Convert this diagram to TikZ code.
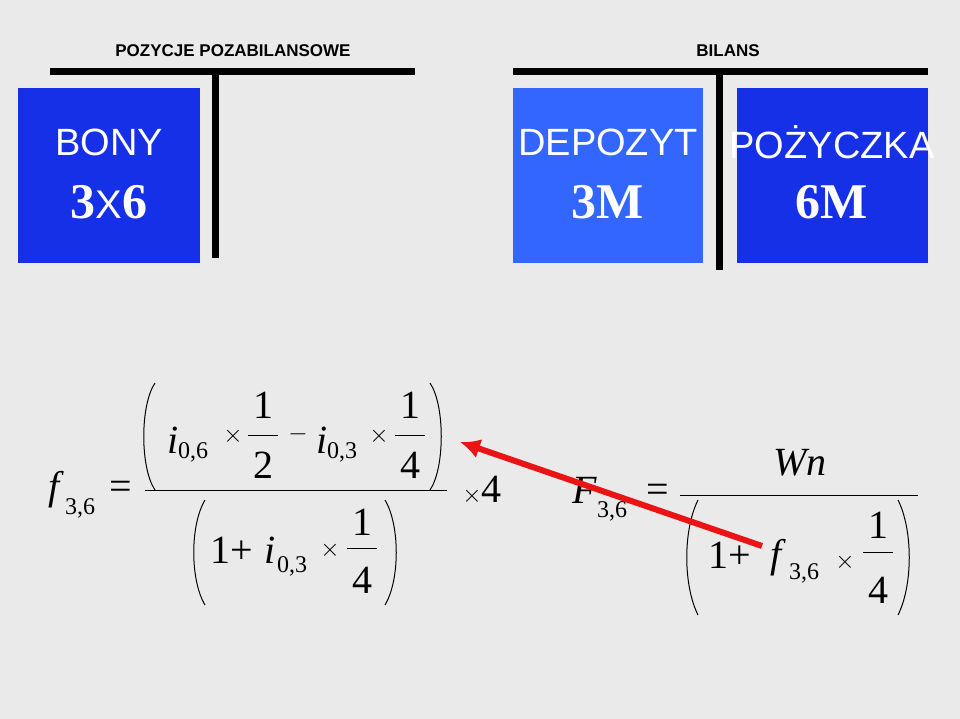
\documentclass[tikz,border=0pt]{standalone}
\usepackage{fontspec}
\usetikzlibrary{arrows.meta}
\setmainfont{Liberation Serif}
\setsansfont{Liberation Sans}
\begin{document}
\begin{tikzpicture}[x=1pt,y=-1pt,
  bar/.style={line width=7pt},
  head/.style={font=\sffamily\bfseries\fontsize{17}{17}\selectfont},
  boxt/.style={text=white,font=\sffamily\fontsize{38}{38}\selectfont},
  boxn/.style={text=white,font=\bfseries\fontsize{50}{50}\selectfont},
  mi/.style={font=\itshape\fontsize{40}{40}\selectfont},
  mr/.style={font=\fontsize{40}{40}\selectfont},
  sb/.style={font=\fontsize{24}{24}\selectfont},
  fl/.style={line width=1pt},
  pr/.style={line width=1pt}]
\definecolor{darkblue}{RGB}{22,48,232}
\definecolor{lightblue}{RGB}{51,102,255}
\definecolor{bg}{RGB}{234,234,234}
\definecolor{arr}{RGB}{235,20,20}
\fill[bg] (0,0) rectangle (960,719);
\useasboundingbox (0,0) rectangle (960,719);
% headers
\node[head] (h1) at (233,51) {POZYCJE POZABILANSOWE};
\node[head] (h2) at (728,51) {BILANS};
\draw[bar] (50,72) -- (415,72);
\draw[bar] (215,72) -- (215,258);
\draw[bar] (513,72) -- (928,72);
\draw[bar] (719,72) -- (719,270);
% boxes
\fill[darkblue] (18,88) rectangle (200,263);
\fill[lightblue] (513,88) rectangle (703,263);
\fill[darkblue] (737,88) rectangle (928,263);
\node[boxt] (b1) at (109,142) {BONY};
\node[boxn] (b1n) at (109,202) {3\textmd{\sffamily\fontsize{40}{40}\selectfont X}6};
\node[boxt] (b2) at (608,142) {DEPOZYT};
\node[boxn] (b2n) at (608,202) {3M};
\node[boxt] (b3) at (832,142) {POŻYCZKA};
\node[boxn] (b3n) at (832,202) {6M};
% left formula
\node[mi] (f1) at (54,490) {f};
\node[sb] (f1s) at (80,508) {3,6};
\node[mr] (eq1) at (121,490) {=};
\draw[fl] (145,490) -- (447,490);
\draw[pr] (155,383) .. controls (140,405) and (140,468) .. (155,490);
\draw[pr] (430,383) .. controls (445,405) and (445,468) .. (430,490);
\node[mi] (i1) at (173,440) {i};
\node[sb] (i1s) at (193,452) {0,6};
\node[mr] (x1) at (233,436) {$\times$};
\node[mr] (n1) at (263,405) {1};
\draw[fl] (248,435) -- (278,435);
\node[mr] (d1) at (263,465) {2};
\node[mr] (m1) at (298,434) {$-$};
\node[mi] (i2) at (322,440) {i};
\node[sb] (i2s) at (342,452) {0,3};
\node[mr] (x2) at (379,436) {$\times$};
\node[mr] (n2) at (410,405) {1};
\draw[fl] (395,435) -- (425,435);
\node[mr] (d2) at (410,465) {4};
\draw[pr] (205,500) .. controls (190,525) and (190,580) .. (205,605);
\draw[pr] (385,500) .. controls (400,525) and (400,580) .. (385,605);
\node[mr] (one1) at (232,550) {1+};
\node[mi] (i3) at (270,550) {i};
\node[sb] (i3s) at (292,566) {0,3};
\node[mr] (x3) at (330,550) {$\times$};
\node[mr] (n3) at (362,522) {1};
\draw[fl] (347,548) -- (377,548);
\node[mr] (d3) at (362,580) {4};
\node[mr] (x4) at (482,490) {$\times$4};
% right formula
\node[mi] (F) at (585,490) {F};
\node[sb] (Fs) at (612,511) {3,6};
\node[mr] (eq2) at (658,493) {=};
\node[mi] (wn) at (800,463) {Wn};
\draw[fl] (680,495) -- (918,495);
\draw[pr] (698,500) .. controls (683,530) and (683,585) .. (698,615);
\draw[pr] (898,500) .. controls (913,530) and (913,585) .. (898,615);
\node[mr] (one2) at (730,555) {1+};
\node[mi] (f2) at (776,558) {f};
\node[sb] (f2s) at (804,573) {3,6};
\node[mr] (x5) at (845,562) {$\times$};
\node[mr] (n5) at (878,525) {1};
\draw[fl] (863,552) -- (893,552);
\node[mr] (d5) at (878,590) {4};
% arrow
\coordinate (as) at (762,546);
\coordinate (ae) at (460,442);
\draw[arr,line width=6pt,-{Latex[length=20pt,width=20pt]}] (as) -- (ae);
\end{tikzpicture}
\end{document}
